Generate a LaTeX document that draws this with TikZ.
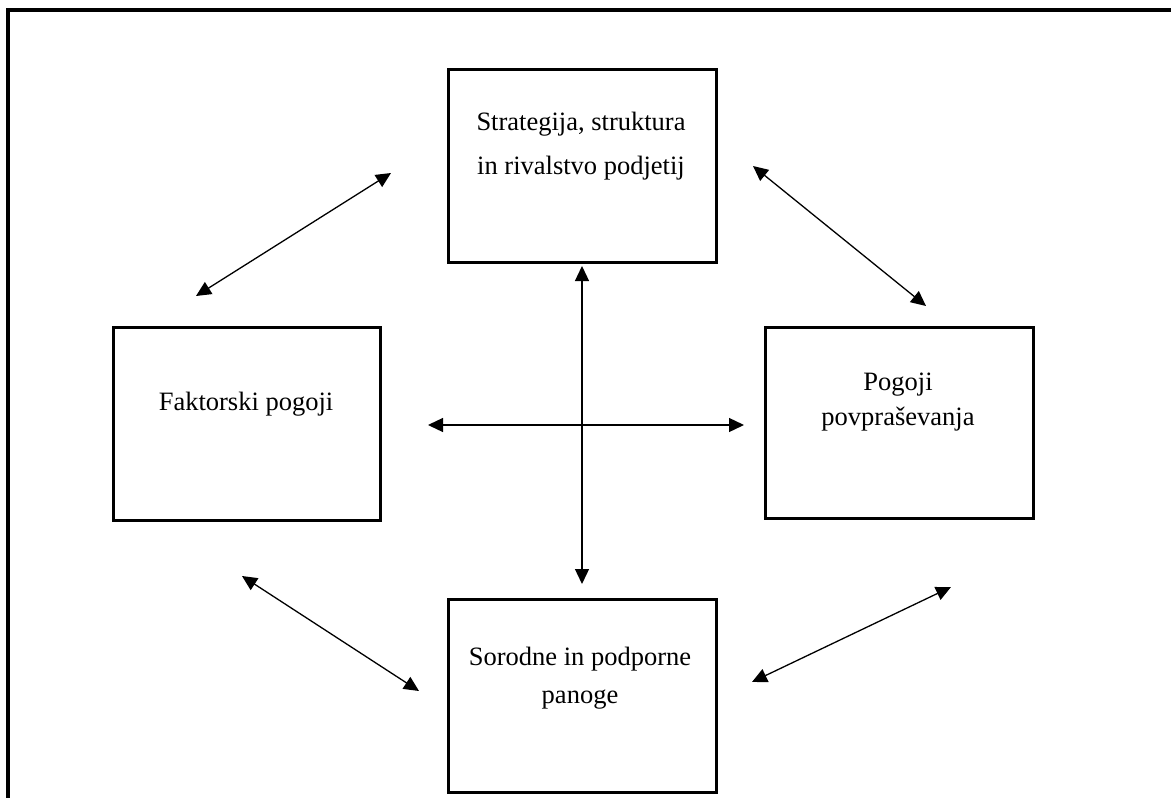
\documentclass[tikz,border=0pt]{standalone}
\usepackage{fontspec}
\setmainfont{Liberation Serif}
\usetikzlibrary{arrows.meta}
\begin{document}
\begin{tikzpicture}[x=1pt,y=-1pt,
  box/.style={draw=black,line width=3pt,minimum width=#1,minimum height=193pt,inner sep=0pt,anchor=north west},
  lbl/.style={align=center,font=\fontsize{26.5}{44}\selectfont,inner sep=0pt},
  dbl/.style={line width=1.3pt,{Triangle[length=15pt,width=14pt]}-{Triangle[length=15pt,width=14pt]}},
  frame/.style={line width=3.2pt}]
\useasboundingbox (0,0) rectangle (1171,798);
% outer frame (only top and left visible)
\coordinate (f1) at (1175,10);
\coordinate (f2) at (8,10);
\coordinate (f3) at (8,802);
\draw[frame] (f1) -- (f2) -- (f3);
% boxes
\node[box=268pt] (top) at (447,68) {};
\node[box=267pt] (left) at (112,326) {};
\node[box=268pt,minimum height=191pt] (right) at (764,326) {};
\node[box=268pt] (bot) at (447,598) {};
% texts
\node[lbl] (ttop) at (581,146) {Strategija, struktura\\in rivalstvo podjetij};
\node[lbl] (tleft) at (246,404) {Faktorski pogoji};
\node[lbl,font=\fontsize{26.5}{35}\selectfont] (tright) at (898,402) {Pogoji\\povpraševanja};
\node[lbl,font=\fontsize{26.5}{38}\selectfont] (tbot) at (580,678) {Sorodne in podporne\\panoge};
% arrow end points
\coordinate (v1) at (582,266);
\coordinate (v2) at (582,584);
\coordinate (h1) at (428,425);
\coordinate (h2) at (744,425);
\coordinate (a1) at (196,296);
\coordinate (a2) at (391,173);
\coordinate (b1) at (753,166);
\coordinate (b2) at (926,306);
\coordinate (c1) at (242,576);
\coordinate (c2) at (419,691);
\coordinate (d1) at (752,682);
\coordinate (d2) at (951,587);
\draw[dbl] (v1) -- (v2);
\draw[dbl] (h1) -- (h2);
\draw[dbl] (a1) -- (a2);
\draw[dbl] (b1) -- (b2);
\draw[dbl] (c1) -- (c2);
\draw[dbl] (d1) -- (d2);
\end{tikzpicture}
\end{document}
